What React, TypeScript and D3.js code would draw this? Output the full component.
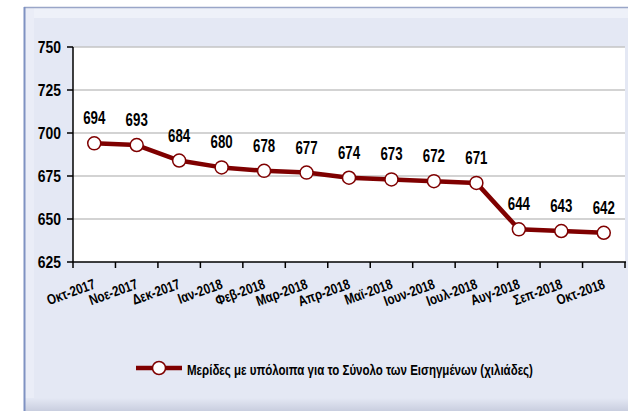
import React, { useEffect, useRef, useState } from "react";
import * as d3 from "d3";

const months = [
  "Οκτ-2017", "Νοε-2017", "Δεκ-2017", "Ιαν-2018", "Φεβ-2018", "Μαρ-2018", "Απρ-2018",
  "Μαϊ-2018", "Ιουν-2018", "Ιουλ-2018", "Αυγ-2018", "Σεπ-2018", "Οκτ-2018",
];
const accounts = [694, 693, 684, 680, 678, 677, 674, 673, 672, 671, 644, 643, 642];
const yTicks = [625, 650, 675, 700, 725, 750];
const seriesName = "Μερίδες με υπόλοιπα για το Σύνολο των Εισηγμένων (χιλιάδες)";

const W = 628;
const H = 411;
const FONT = "'Liberation Sans', Arial, sans-serif";
const RED = "#7f0000";
const LEGEND_WIDTH = 346;

type NarrowProps = {
  x: number;
  y: number;
  size: number;
  squeeze: number;
  anchor?: "start" | "middle" | "end";
  rotate?: number;
  dy?: string;
  textRef?: React.Ref<SVGTextElement>;
  children: React.ReactNode;
};

// narrow bold face: Arial squeezed horizontally
function Narrow({ x, y, size, squeeze, anchor = "start", rotate = 0, dy, textRef, children }: NarrowProps) {
  return (
    <g transform={`translate(${x},${y}) rotate(${rotate}) scale(${squeeze},1)`}>
      <text ref={textRef} textAnchor={anchor} dy={dy} fontSize={size} fontWeight="bold" fill="#000">
        {children}
      </text>
    </g>
  );
}

export default function App() {
  const legendRef = useRef<SVGTextElement>(null);
  const [legendSqueeze, setLegendSqueeze] = useState(0.79);

  useEffect(() => {
    const len = legendRef.current?.getComputedTextLength();
    if (len) setLegendSqueeze(LEGEND_WIDTH / len);
  }, []);

  const x = d3.scaleBand<string>().domain(months).range([73, 625]);
  const y = d3.scaleLinear().domain([625, 750]).range([262, 47]);
  const cx = (m: string) => (x(m) ?? 0) + x.bandwidth() / 2;

  const line = d3
    .line<number>()
    .x((_, i) => cx(months[i]))
    .y((d) => y(d));

  const boundaries = months.map((m) => x(m) ?? 0).concat([x.range()[1]]);

  return (
    <svg
      width={W}
      height={H}
      style={{ position: "absolute", left: 0, top: 0, fontFamily: FONT }}
    >
      <defs>
        <linearGradient id="bottomShade" x1="0" y1="0" x2="0" y2="1">
          <stop offset="0" stopColor="#e4e8f4" />
          <stop offset="1" stopColor="#c9cedf" />
        </linearGradient>
      </defs>
      <rect x={0} y={0} width={W} height={H} fill="#ffffff" />
      {/* chart frame */}
      <rect x={24} y={7} width={W} height={H} fill="#e4e8f4" />
      <rect x={24} y={7} width={W} height={11} fill="#eef1f9" />
      <rect x={24} y={7} width={10} height={H} fill="#eaedf7" />
      <rect x={24} y={398} width={W} height={13} fill="url(#bottomShade)" />
      <line x1={24} x2={W} y1={7.5} y2={7.5} stroke="#9aa6c8" strokeWidth={1.5} />
      <line x1={24.5} x2={24.5} y1={7} y2={H} stroke="#7f92c2" strokeWidth={2} />

      {/* plot area */}
      <rect x={73} y={47} width={625 - 73} height={262 - 47} fill="#ffffff" />
      {yTicks.slice(1).map((t) => (
        <line key={t} x1={73} x2={625} y1={y(t)} y2={y(t)} stroke="#c4c4c4" strokeWidth={1.5} />
      ))}

      {/* y axis */}
      <line x1={73} x2={73} y1={47} y2={262} stroke="#000" strokeWidth={1.5} />
      {yTicks.map((t) => (
        <g key={t}>
          <line x1={67} x2={73} y1={y(t)} y2={y(t)} stroke="#000" strokeWidth={1.5} />
          <Narrow x={61} y={y(t)} dy="0.36em" size={17} squeeze={0.82} anchor="end">
            {t}
          </Narrow>
        </g>
      ))}

      {/* x axis */}
      <line x1={73} x2={626} y1={262} y2={262} stroke="#000" strokeWidth={1.5} />
      {boundaries.map((b, i) => (
        <line key={i} x1={b} x2={b} y1={262} y2={268} stroke="#000" strokeWidth={1.5} />
      ))}
      {months.map((m) => (
        <Narrow key={m} x={cx(m) + 2} y={288} size={14.5} squeeze={0.8} anchor="end" rotate={-20}>
          {m}
        </Narrow>
      ))}

      {/* series */}
      <path d={line(accounts) ?? ""} fill="none" stroke={RED} strokeWidth={4.5} strokeLinejoin="round" />
      {accounts.map((v, i) => (
        <circle key={i} cx={cx(months[i])} cy={y(v)} r={6.5} fill="#fff" stroke={RED} strokeWidth={1.5} />
      ))}
      {accounts.map((v, i) => (
        <Narrow key={i} x={cx(months[i])} y={y(v) - 19} size={17.5} squeeze={0.76} anchor="middle">
          {v}
        </Narrow>
      ))}

      {/* legend */}
      <line x1={136} x2={182} y1={368} y2={368} stroke={RED} strokeWidth={4.5} />
      <circle cx={159} cy={368} r={6.5} fill="#fff" stroke={RED} strokeWidth={1.5} />
      <Narrow x={187} y={375} size={15} squeeze={legendSqueeze} textRef={legendRef}>
        {seriesName}
      </Narrow>
    </svg>
  );
}
